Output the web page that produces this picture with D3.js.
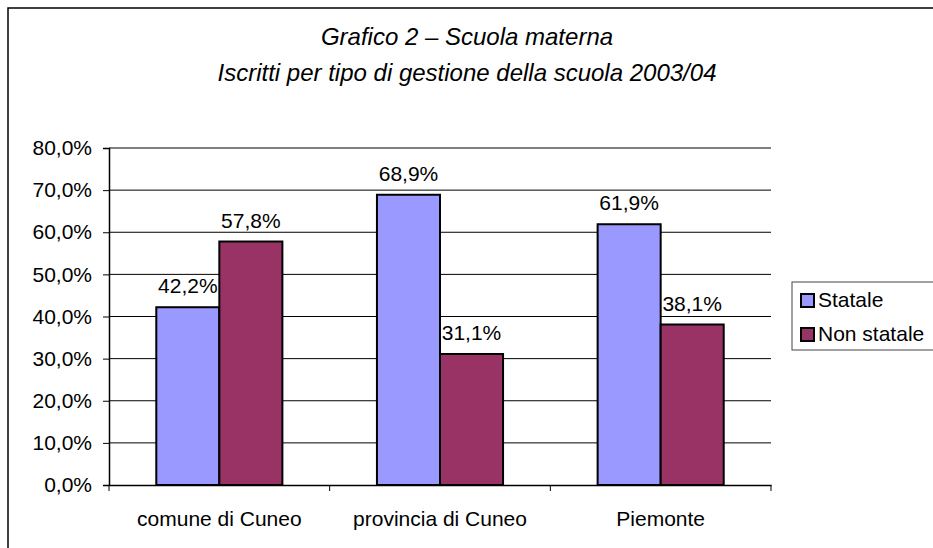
<!DOCTYPE html>
<html>
<head>
<meta charset="utf-8">
<script src="https://cdn.jsdelivr.net/npm/d3@7"></script>
<style>
  body { margin: 0; background: #fff; }
  svg text { font-family: "Liberation Sans", Arial, sans-serif; fill: #000; }
</style>
</head>
<body>
<svg id="chart" width="933" height="548"></svg>
<script>
// data
var categories = ["comune di Cuneo", "provincia di Cuneo", "Piemonte"];
var seriesNames = ["Statale", "Non statale"];
var statale = [42.2, 68.9, 61.9];
var nonStatale = [57.8, 31.1, 38.1];
var yTicks = [0, 10, 20, 30, 40, 50, 60, 70, 80];
var titleLines = ["Grafico 2 \u2013 Scuola materna", "Iscritti per tipo di gestione della scuola 2003/04"];

var colors = ["#9999ff", "#993366"];
var fmt = function(v) { return d3.format(".1f")(v).replace(".", ",") + "%"; };

var svg = d3.select("#chart");
var plot = { left: 109, right: 771, top: 148, bottom: 485 };

// outer frame (cut off by the picture on the right and bottom)
svg.append("rect")
    .attr("x", 8).attr("y", 8)
    .attr("width", 960).attr("height", 600)
    .attr("fill", "none").attr("stroke", "#000").attr("stroke-width", 1.5);

svg.selectAll("text.title").data(titleLines).enter().append("text")
    .classed("title", true)
    .attr("x", 467)
    .attr("y", function(d, i) { return 45 + i * 36; })
    .attr("text-anchor", "middle")
    .style("font-size", "24px")
    .style("font-style", "italic")
    .text(function(d) { return d; });

var y = d3.scaleLinear().domain([0, 80]).range([plot.bottom, plot.top]);
var x0 = d3.scaleBand().domain(categories).range([plot.left, plot.right]).padding(0);
var x1 = d3.scaleBand().domain(seriesNames).range([0, x0.bandwidth()])
    .paddingInner(0).paddingOuter(0.75);

// gridlines
svg.append("g").selectAll("line.grid").data(yTicks.slice(1)).enter().append("line")
    .classed("grid", true)
    .attr("x1", plot.left).attr("x2", plot.right)
    .attr("y1", function(d) { return y(d); })
    .attr("y2", function(d) { return y(d); })
    .attr("stroke", "#000").attr("stroke-width", 1);

// bars
var rows = categories.map(function(c, i) {
  return { cat: c, values: [statale[i], nonStatale[i]] };
});
var groups = svg.append("g").selectAll("g.cat").data(rows).enter().append("g")
    .classed("cat", true)
    .attr("transform", function(d) { return "translate(" + x0(d.cat) + ",0)"; });

groups.selectAll("rect").data(function(d) {
  return d.values.map(function(v, j) { return { name: seriesNames[j], v: v, j: j }; });
}).enter().append("rect")
    .attr("x", function(d) { return x1(d.name); })
    .attr("y", function(d) { return y(d.v); })
    .attr("width", x1.bandwidth())
    .attr("height", function(d) { return y(0) - y(d.v); })
    .attr("fill", function(d) { return colors[d.j]; })
    .attr("stroke", "#000").attr("stroke-width", 2);

groups.selectAll("text.lbl").data(function(d) {
  return d.values.map(function(v, j) { return { name: seriesNames[j], v: v }; });
}).enter().append("text")
    .classed("lbl", true)
    .attr("x", function(d) { return x1(d.name) + x1.bandwidth() / 2; })
    .attr("y", function(d) { return y(d.v) - 14; })
    .attr("text-anchor", "middle")
    .style("font-size", "21px")
    .text(function(d) { return fmt(d.v); });

// y axis
var yAxis = svg.append("g")
    .attr("transform", "translate(" + plot.left + ",0)")
    .call(d3.axisLeft(y).tickValues(yTicks).tickSize(6).tickPadding(11)
      .tickFormat(fmt));
yAxis.select(".domain").attr("stroke", "#000").attr("stroke-width", 1.5);
yAxis.selectAll("text").style("font-size", "21px")
    .style("font-family", "Liberation Sans, Arial, sans-serif");

// x axis
var xAxis = svg.append("g")
    .attr("transform", "translate(0," + plot.bottom + ")")
    .call(d3.axisBottom(x0).tickSize(0).tickPadding(26));
xAxis.select(".domain").attr("stroke", "#000").attr("stroke-width", 1.5);
xAxis.selectAll("text").style("font-size", "21px")
    .style("font-family", "Liberation Sans, Arial, sans-serif");
var dividers = [plot.left].concat(categories.map(function(c) { return x0(c) + x0.bandwidth(); }));
xAxis.selectAll("line.div").data(dividers).enter().append("line")
    .classed("div", true)
    .attr("x1", function(d) { return d; }).attr("x2", function(d) { return d; })
    .attr("y1", 0).attr("y2", 6)
    .attr("stroke", "#000").attr("stroke-width", 1);

// legend
var legend = svg.append("g");
legend.append("rect")
    .attr("x", 792).attr("y", 282).attr("width", 160).attr("height", 68)
    .attr("fill", "#fff").attr("stroke", "#444").attr("stroke-width", 1);
var items = legend.selectAll("g.item").data(seriesNames).enter().append("g")
    .classed("item", true)
    .attr("transform", function(d, i) { return "translate(801," + (294 + i * 34) + ")"; });
items.append("rect")
    .attr("width", 13).attr("height", 13)
    .attr("fill", function(d, i) { return colors[i]; })
    .attr("stroke", "#000").attr("stroke-width", 2);
items.append("text")
    .attr("x", 17).attr("y", 13)
    .style("font-size", "21px")
    .text(function(d) { return d; });
</script>
</body>
</html>
